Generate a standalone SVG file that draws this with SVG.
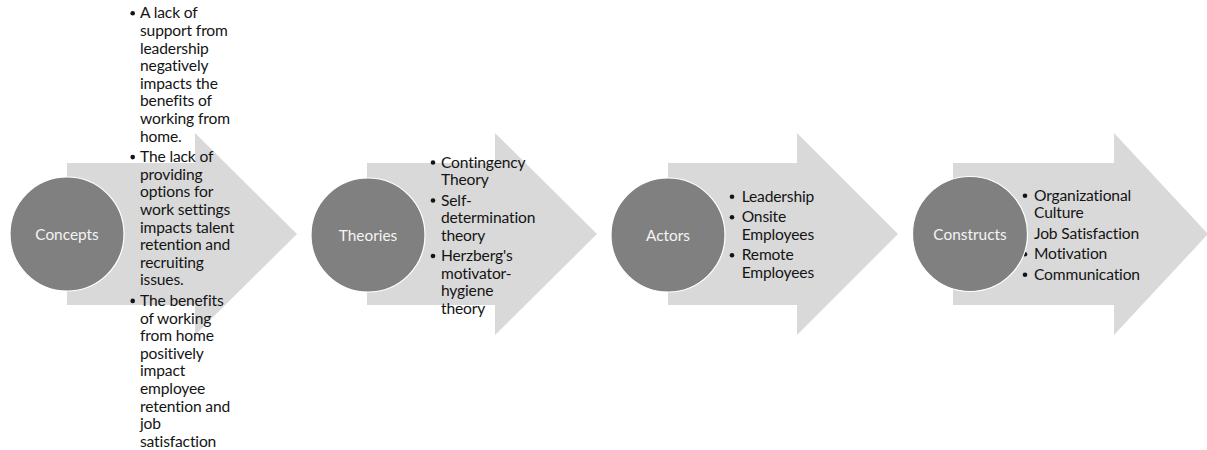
<svg xmlns="http://www.w3.org/2000/svg" width="1207" height="450" viewBox="0 0 1207 450">
  <style>
    .arrow { fill: #d9d9d9; }
    .hub { fill: #808080; stroke: #ffffff; stroke-width: 1.2; }
    .hub-label { font-family: Lato, "Liberation Sans", sans-serif; font-size: 15.4px; fill: #f4f4f4; text-anchor: middle; }
    .item { font-family: Lato, "Liberation Sans", sans-serif; font-size: 15.6px; letter-spacing: -0.15px; fill: #141414; }
    .dot { fill: #141414; }
  </style>
  <rect width="1207" height="450" fill="#ffffff"/>

  <!-- Stage 1: Concepts -->
  <g id="concepts">
    <polygon class="arrow" points="67,163 195,163 195,133 297,234 195,335 195,305 67,305"/>
    <g class="dots">
      <circle class="dot" cx="132.7" cy="13.3" r="2.3"/>
      <circle class="dot" cx="132.7" cy="157.1" r="2.3"/>
      <circle class="dot" cx="132.7" cy="300.9" r="2.3"/>
    </g>
    <text class="item">
      <tspan x="140" y="18.3">A lack of</tspan>
      <tspan x="140" y="35.9">support from</tspan>
      <tspan x="140" y="53.5">leadership</tspan>
      <tspan x="140" y="71.1">negatively</tspan>
      <tspan x="140" y="88.7">impacts the</tspan>
      <tspan x="140" y="106.3">benefits of</tspan>
      <tspan x="140" y="123.9">working from</tspan>
      <tspan x="140" y="141.5">home.</tspan>
      <tspan x="140" y="162.1">The lack of</tspan>
      <tspan x="140" y="179.7">providing</tspan>
      <tspan x="140" y="197.3">options for</tspan>
      <tspan x="140" y="214.9">work settings</tspan>
      <tspan x="140" y="232.5">impacts talent</tspan>
      <tspan x="140" y="250.1">retention and</tspan>
      <tspan x="140" y="267.7">recruiting</tspan>
      <tspan x="140" y="285.3">issues.</tspan>
      <tspan x="140" y="305.9">The benefits</tspan>
      <tspan x="140" y="323.5">of working</tspan>
      <tspan x="140" y="341.1">from home</tspan>
      <tspan x="140" y="358.7">positively</tspan>
      <tspan x="140" y="376.3">impact</tspan>
      <tspan x="140" y="393.9">employee</tspan>
      <tspan x="140" y="411.5">retention and</tspan>
      <tspan x="140" y="429.1">job</tspan>
      <tspan x="140" y="446.7">satisfaction</tspan>
    </text>
    <circle class="hub" cx="67" cy="234" r="57"/>
    <text class="hub-label" x="67" y="239.5">Concepts</text>
  </g>

  <!-- Stage 2: Theories -->
  <g id="theories">
    <polygon class="arrow" points="367,163 495,163 495,133 597,234 495,335 495,305 367,305"/>
    <g class="dots">
      <circle class="dot" cx="433" cy="162.5" r="2.3"/>
      <circle class="dot" cx="433" cy="200.5" r="2.3"/>
      <circle class="dot" cx="433" cy="256" r="2.3"/>
    </g>
    <text class="item">
      <tspan x="441" y="167.5">Contingency</tspan>
      <tspan x="441" y="185">Theory</tspan>
      <tspan x="441" y="205.5">Self-</tspan>
      <tspan x="441" y="223">determination</tspan>
      <tspan x="441" y="240.5">theory</tspan>
      <tspan x="441" y="261">Herzberg's</tspan>
      <tspan x="441" y="278.5">motivator-</tspan>
      <tspan x="441" y="296">hygiene</tspan>
      <tspan x="441" y="313.5">theory</tspan>
    </text>
    <circle class="hub" cx="368" cy="235" r="57"/>
    <text class="hub-label" x="368" y="240.5">Theories</text>
  </g>

  <!-- Stage 3: Actors -->
  <g id="actors">
    <polygon class="arrow" points="668,163 797,163 797,133 898,234 797,335 797,305 668,305"/>
    <g class="dots">
      <circle class="dot" cx="732" cy="196.7" r="2.3"/>
      <circle class="dot" cx="732" cy="217.2" r="2.3"/>
      <circle class="dot" cx="732" cy="255.2" r="2.3"/>
    </g>
    <text class="item">
      <tspan x="741.7" y="201.7">Leadership</tspan>
      <tspan x="741.7" y="222.2">Onsite</tspan>
      <tspan x="741.7" y="239.7">Employees</tspan>
      <tspan x="741.7" y="260.2">Remote</tspan>
      <tspan x="741.7" y="277.7">Employees</tspan>
    </text>
    <circle class="hub" cx="668" cy="235" r="57"/>
    <text class="hub-label" x="668" y="240.5">Actors</text>
  </g>

  <!-- Stage 4: Constructs -->
  <g id="constructs">
    <polygon class="arrow" points="953,163 1114,163 1114,133 1208,234 1114,335 1114,305 953,305"/>
    <g class="dots">
      <circle class="dot" cx="1025" cy="195.7" r="2.3"/>
      <circle class="dot" cx="1025" cy="233.7" r="2.3"/>
      <circle class="dot" cx="1025" cy="254.2" r="2.3"/>
      <circle class="dot" cx="1025" cy="274.7" r="2.3"/>
    </g>
    <text class="item">
      <tspan x="1034" y="200.7">Organizational</tspan>
      <tspan x="1034" y="218.2">Culture</tspan>
      <tspan x="1034" y="238.7">Job Satisfaction</tspan>
      <tspan x="1034" y="259.2">Motivation</tspan>
      <tspan x="1034" y="279.7">Communication</tspan>
    </text>
    <circle class="hub" cx="970" cy="234" r="57.5"/>
    <text class="hub-label" x="970" y="239.5">Constructs</text>
  </g>
</svg>
